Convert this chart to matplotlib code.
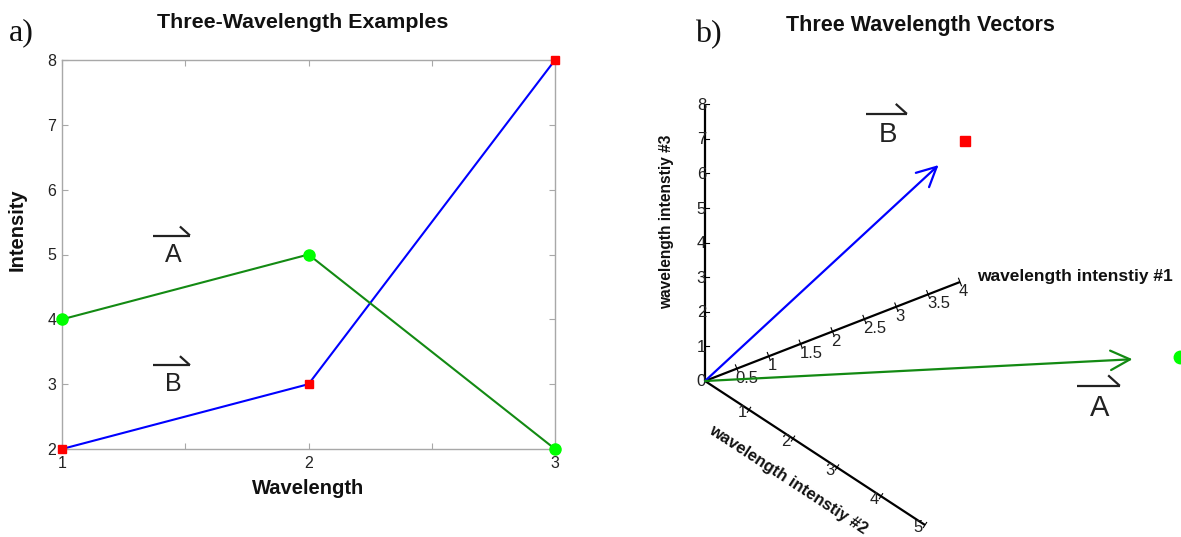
import matplotlib
matplotlib.use("Agg")
import matplotlib.pyplot as plt
import matplotlib.transforms as mtransforms
import numpy as np

plt.rcParams['font.family'] = ['Liberation Sans', 'DejaVu Sans']

# ---------------- data ----------------
wavelengths = [1, 2, 3]
vec_a = [4, 5, 2]          # intensities of A at wavelengths 1..3
vec_b = [2, 3, 8]          # intensities of B at wavelengths 1..3
x_major = [1, 1.5, 2, 2.5, 3]
x_labels = ['1', '', '2', '', '3']
y_ticks = [2, 3, 4, 5, 6, 7, 8]

axis1_ticks = [0.5, 1, 1.5, 2, 2.5, 3, 3.5, 4]
axis1_labels = ['0.5', '1', '1.5', '2', '2.5', '3', '3.5', '4']
axis2_ticks = [1, 2, 3, 4, 5]
axis2_labels = ['1', '2', '3', '4', '5']
axis3_ticks = [0, 1, 2, 3, 4, 5, 6, 7, 8]
axis3_labels = ['0', '1', '2', '3', '4', '5', '6', '7', '8']
axis_lengths = [4, 5, 8]

W, H = 1181, 537
fig = plt.figure(figsize=(W / 100, H / 100), dpi=100)

BLUE = '#0000ff'
GREEN = '#138a13'
LGREEN = '#00ff00'
RED = '#ff0000'
GRAY = '#a8a8a8'
TXT = '#222222'


def vec_label(ax, x, y, letter, size, transform):
    s = size / 18.0
    ax.text(x, y, letter, fontsize=size, ha='center', va='center',
            color=TXT, transform=transform)
    # harpoon drawn in pixel offsets from the letter centre
    for xs, ys in (([-20 * s, 17 * s], [19 * s, 19 * s]),
                   ([17 * s, 7 * s], [19 * s, 28 * s])):
        off = [mtransforms.offset_copy(transform, fig=fig, x=xx, y=yy, units='dots')
               for xx, yy in zip(xs, ys)]
        p0 = off[0].transform((x, y))
        p1 = off[1].transform((x, y))
        ax.add_line(plt.Line2D([p0[0], p1[0]], [p0[1], p1[1]], color=TXT,
                               lw=1.6, transform=None, solid_capstyle='butt'))


# ---------------- panel a ----------------
ax = fig.add_axes([62 / W, 1 - 449 / H, (555 - 62) / W, (449 - 60) / H])
ax.plot(wavelengths, vec_b, color=BLUE, lw=1.5, zorder=2)
ax.plot(wavelengths, vec_a, color=GREEN, lw=1.5, zorder=2)
ax.plot(wavelengths, vec_b, ls='none', marker='s', ms=6, color=RED,
        mec=RED, clip_on=False, zorder=3)
ax.plot(wavelengths, vec_a, ls='none', marker='o', ms=8, color=LGREEN,
        mec=LGREEN, clip_on=False, zorder=3)
ax.set_xlim(1, 3)
ax.set_ylim(2, 8)
ax.set_xticks(x_major)
ax.set_xticklabels(x_labels)
ax.set_yticks(y_ticks)
ax.tick_params(direction='in', length=4, width=0.8, color=GRAY,
               labelcolor=TXT, labelsize=11.5, top=True, right=True)
ax.tick_params(axis='x', pad=5)
ax.tick_params(axis='y', pad=4)
for sp in ax.spines.values():
    sp.set_color(GRAY)
    sp.set_linewidth(1.0)
ax.set_xlabel('Wavelength', fontsize=14.5, fontweight='bold', color='#111111')
ax.xaxis.set_label_coords(0.5, -(488 - 449) / 389)
ax.xaxis.label.set_va('center')
ax.set_ylabel('Intensity', fontsize=14.5, fontweight='bold', color='#111111')
ax.yaxis.set_label_coords(-(62 - 17) / 493, (449 - 230) / 389)
ax.yaxis.label.set_va('center')

vec_label(ax, 1.45, 5.0, 'A', 18, ax.transData)
vec_label(ax, 1.45, 3.0, 'B', 18, ax.transData)

fig.text(303 / W, 1 - 22 / H, 'Three-Wavelength Examples', ha='center',
         va='center', fontsize=15.4, fontweight='bold', color='#111111')
fig.text(21 / W, 1 - 33 / H, 'a)', ha='center', va='center', fontsize=23,
         family='Liberation Serif', color='#111111')

# ---------------- panel b (oblique projection in pixel space) ----------------
axr = fig.add_axes([0, 0, 1, 1])
axr.set_xlim(0, W)
axr.set_ylim(H, 0)
axr.axis('off')
axr.patch.set_alpha(0)

origin = np.array([705.0, 381.0])
E = np.array([[63.75, -24.75],   # intensity #1 direction
              [44.0, 28.8],      # intensity #2 direction
              [0.0, -34.6]])     # intensity #3 direction


def proj(v):
    return origin + np.asarray(v, float) @ E


# axes
for k in range(3):
    p = proj(np.eye(3)[k] * axis_lengths[k])
    axr.plot([origin[0], p[0]], [origin[1], p[1]], color='black', lw=1.6,
             solid_capstyle='butt', zorder=2)

# axis 1 ticks
d1 = E[0] / np.linalg.norm(E[0])
n1 = np.array([-d1[1], d1[0]])
for t, lab in zip(axis1_ticks, axis1_labels):
    p = proj([t, 0, 0])
    axr.plot([p[0] - 4 * n1[0], p[0] + 4 * n1[0]],
             [p[1] - 4 * n1[1], p[1] + 4 * n1[1]], color='black', lw=0.8)
    axr.text(p[0] - 1, p[1] + 2, lab, ha='left', va='top', fontsize=12,
             color=TXT)

# axis 2 ticks
d2 = E[1] / np.linalg.norm(E[1])
n2 = np.array([-d2[1], d2[0]])
for t, lab in zip(axis2_ticks, axis2_labels):
    p = proj([0, t, 0])
    axr.plot([p[0] - 3 * n2[0], p[0] + 3 * n2[0]],
             [p[1] - 3 * n2[1], p[1] + 3 * n2[1]], color='black', lw=0.8)
    axr.text(p[0] - 7, p[1] + 3, lab, ha='center', va='center', fontsize=12,
             color=TXT)

# axis 3 ticks
for t, lab in zip(axis3_ticks, axis3_labels):
    p = proj([0, 0, t])
    axr.plot([p[0], p[0] + 4], [p[1], p[1]], color='black', lw=0.8)
    axr.text(p[0] + 1, p[1] + 1, lab, ha='right', va='center', fontsize=12,
             color=TXT)

# axis titles
p = proj([axis_lengths[0], 0, 0])
axr.text(977, p[1] - 5, 'wavelength intenstiy #1', ha='left', va='center',
         fontsize=12.5, fontweight='bold', color='#111111')
axr.text(667, 222, 'wavelength intenstiy #3', ha='center', va='center',
         rotation=90, fontsize=11.2, fontweight='bold', color='#111111')
ang = -np.degrees(np.arctan2(E[1][1], E[1][0]))
axr.text(788, 480, 'wavelength intenstiy #2', ha='center', va='center',
         rotation=ang, rotation_mode='anchor', fontsize=12,
         fontweight='bold', color='#111111')

# vectors
for vec, col in ((vec_b, BLUE), (vec_a, GREEN)):
    end = proj(vec)
    tip = origin + 0.9 * (end - origin)
    axr.annotate('', xy=tip, xytext=origin,
                 arrowprops=dict(arrowstyle='->,head_length=0.7,head_width=0.35',
                                 color=col, lw=1.6, shrinkA=0, shrinkB=0,
                                 mutation_scale=20), zorder=3)
pb = proj(vec_b)
axr.plot(pb[0], pb[1], marker='s', ms=7, color=RED, mec=RED, ls='none')
pa = proj(vec_a)
axr.plot(pa[0], pa[1], marker='o', ms=9, color=LGREEN, mec=LGREEN, ls='none',
         clip_on=False)

vec_label(axr, 888, 135, 'B', 20, axr.transData)
vec_label(axr, 1100, 408, 'A', 21, axr.transData)

fig.text(920 / W, 1 - 25 / H, 'Three Wavelength Vectors', ha='center',
         va='center', fontsize=15.5, fontweight='bold', color='#111111')
fig.text(708 / W, 1 - 35 / H, 'b)', ha='center', va='center', fontsize=23,
         family='Liberation Serif', color='#111111')

fig.savefig('out.png', dpi=100)
